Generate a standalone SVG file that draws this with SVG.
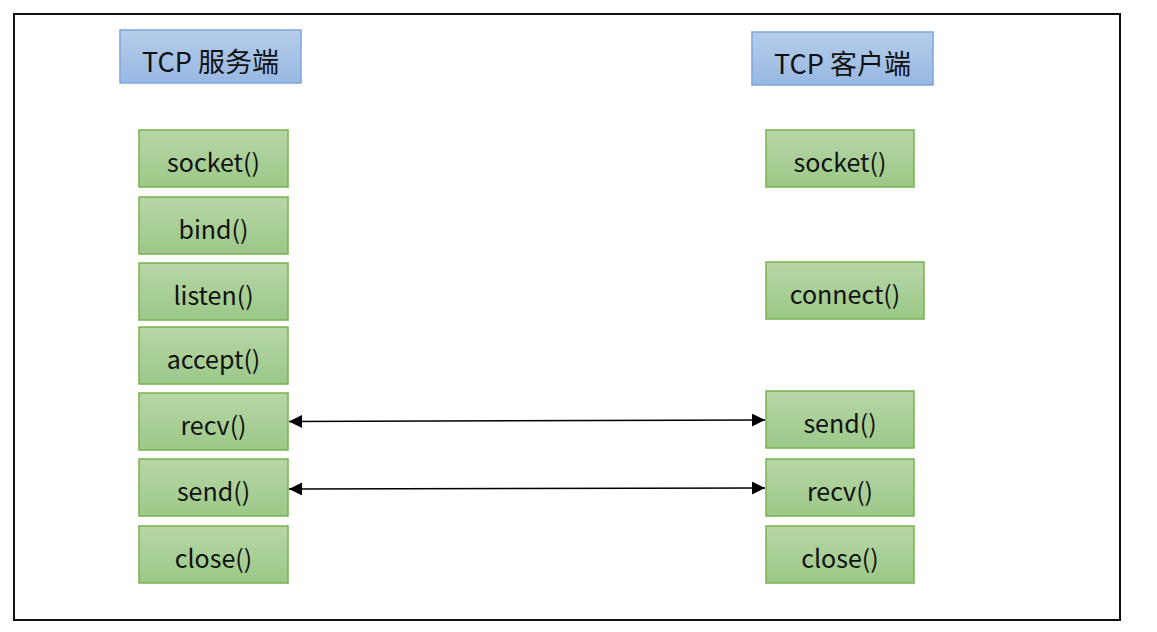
<svg xmlns="http://www.w3.org/2000/svg" width="1157" height="632" viewBox="0 0 1157 632">
<style>
.g{fill:url(#gg);stroke:#77b24d;stroke-width:1.5}
.b{fill:url(#bg);stroke:#7ea6d8;stroke-width:1.5}
text{font-family:"Noto Sans CJK SC","Noto Sans",sans-serif;font-size:25px;fill:#111;text-anchor:middle;dominant-baseline:central}
text.h{font-size:27px}
.c{stroke:#000;stroke-width:1.5;fill:none;marker-start:url(#ah);marker-end:url(#ah)}
</style>
<defs>
<linearGradient id="gg" x1="0" y1="0" x2="0" y2="1"><stop offset="0" stop-color="#b7d7a6"/><stop offset="1" stop-color="#9cc888"/></linearGradient>
<linearGradient id="bg" x1="0" y1="0" x2="0" y2="1"><stop offset="0" stop-color="#b6cdea"/><stop offset="1" stop-color="#97b8e2"/></linearGradient>
<marker id="ah" viewBox="0 0 10 10" refX="10" refY="5" markerWidth="15" markerHeight="13" markerUnits="userSpaceOnUse" orient="auto-start-reverse"><path d="M0,0L10,5L0,10z" fill="#000"/></marker>
</defs>
<rect x="14" y="14" width="1106" height="606" fill="#fff" stroke="#111" stroke-width="2"/>
<g id="h-server"><rect class="b" x="120" y="30" width="181" height="53"/><text class="h" x="210.5" y="60">TCP 服务端</text></g>
<g id="h-client"><rect class="b" x="752" y="32" width="181" height="53"/><text class="h" x="842.5" y="62">TCP 客户端</text></g>
<g id="s-socket"><rect class="g" x="139" y="130" width="149" height="57"/><text x="213.5" y="161">socket()</text></g>
<g id="s-bind"><rect class="g" x="139" y="197" width="149" height="57"/><text x="213.5" y="228">bind()</text></g>
<g id="s-listen"><rect class="g" x="139" y="263" width="149" height="57"/><text x="213.5" y="294">listen()</text></g>
<g id="s-accept"><rect class="g" x="139" y="327" width="149" height="57"/><text x="213.5" y="358">accept()</text></g>
<g id="s-recv"><rect class="g" x="139" y="393" width="149" height="57"/><text x="213.5" y="424">recv()</text></g>
<g id="s-send"><rect class="g" x="139" y="459" width="149" height="57"/><text x="213.5" y="490">send()</text></g>
<g id="s-close"><rect class="g" x="139" y="526" width="149" height="57"/><text x="213.5" y="557">close()</text></g>
<g id="c-socket"><rect class="g" x="766" y="130" width="148" height="57"/><text x="840" y="161">socket()</text></g>
<g id="c-connect"><rect class="g" x="766" y="262" width="158" height="57"/><text x="845" y="293">connect()</text></g>
<g id="c-send"><rect class="g" x="766" y="391" width="148" height="57"/><text x="840" y="422">send()</text></g>
<g id="c-recv"><rect class="g" x="766" y="459" width="148" height="57"/><text x="840" y="490">recv()</text></g>
<g id="c-close"><rect class="g" x="766" y="526" width="148" height="57"/><text x="840" y="557">close()</text></g>
<g id="connectors">
<line class="c" x1="289" y1="421.5" x2="765" y2="420"/>
<line class="c" x1="289" y1="489" x2="765" y2="488"/>
</g>
</svg>
